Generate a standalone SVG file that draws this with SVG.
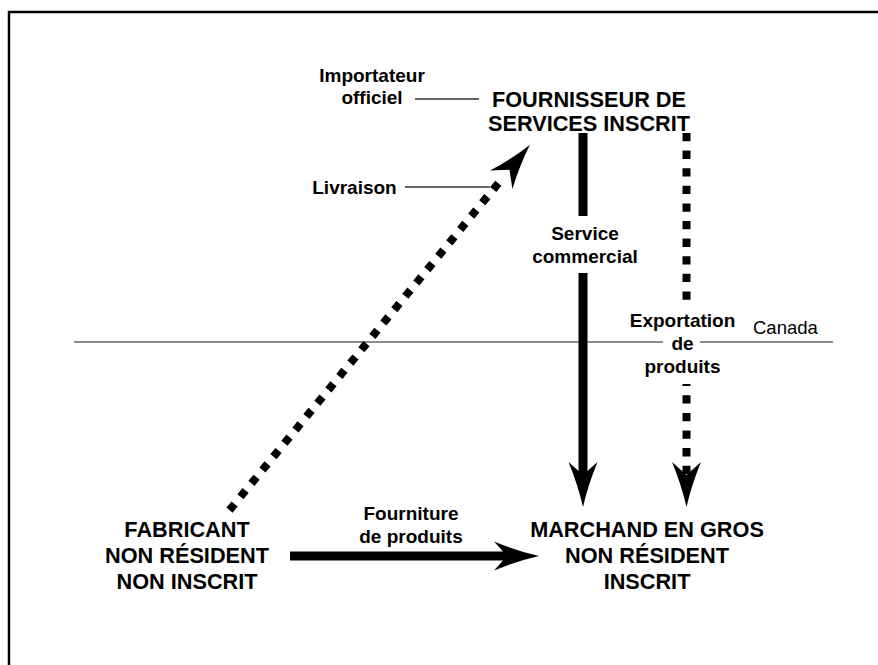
<svg xmlns="http://www.w3.org/2000/svg" xmlns:xlink="http://www.w3.org/1999/xlink" width="878" height="665" viewBox="0 0 878 665">
<style>
  .node { font-family: "Liberation Sans", Arial, sans-serif; font-weight: bold; font-size: 21.7px; fill: #000; text-anchor: middle; }
  .lbl { font-family: "Liberation Sans", Arial, sans-serif; font-weight: bold; font-size: 19px; fill: #000; text-anchor: middle; }
  .reg { font-family: "Liberation Sans", Arial, sans-serif; font-size: 18.5px; fill: #000; }
  .solid { stroke: #000; stroke-width: 9; fill: none; }
  .dash { stroke: #000; stroke-width: 8; fill: none; stroke-dasharray: 8.3 9.3; }
  .dot { stroke: #000; stroke-width: 8; fill: none; stroke-dasharray: 8 9.3; }
  .thin { stroke: #333; stroke-width: 1.4; fill: none; }
  .border { stroke: #666; stroke-width: 1.4; fill: none; }
</style>
<defs>
  <path id="ah" d="M0,0 Q-22,-5 -45,-14.5 L-32,0 L-45,14.5 Q-22,5 0,0 Z" fill="#000"/>
</defs>
<rect x="0" y="0" width="878" height="665" fill="#fff"/>
<path d="M9,668 V12 H881" stroke="#000" stroke-width="2.5" fill="none"/>

<g id="boundary">
  <line class="border" x1="74" y1="342" x2="663" y2="342"/>
  <line class="border" x1="700" y1="342" x2="833" y2="342"/>
  <text class="reg" x="753" y="334">Canada</text>
</g>

<g id="connectors">
  <!-- Livraison: dotted diagonal -->
  <line class="dot" x1="229.5" y1="510.1" x2="498.7" y2="182.8"/>
  <use xlink:href="#ah" href="#ah" transform="translate(529.8,145) rotate(-50.56)"/>
  <!-- Service commercial -->
  <line class="solid" x1="583" y1="133" x2="583" y2="216"/>
  <line class="solid" x1="583" y1="273" x2="583" y2="482"/>
  <use xlink:href="#ah" href="#ah" transform="translate(583,507) rotate(90)"/>
  <!-- Exportation de produits -->
  <line class="dash" x1="686.5" y1="133" x2="686.5" y2="300"/>
  <line class="dash" x1="686.5" y1="384" x2="686.5" y2="476" stroke-dashoffset="6.3"/>
  <use xlink:href="#ah" href="#ah" transform="translate(686.5,507) rotate(90)"/>
  <!-- Fourniture de produits -->
  <line class="solid" x1="290" y1="556" x2="514" y2="556" stroke-width="10"/>
  <use xlink:href="#ah" href="#ah" transform="translate(539,556)"/>
  <!-- callout leaders -->
  <line class="thin" x1="415" y1="99" x2="479" y2="99"/>
  <line class="thin" x1="405" y1="187" x2="490" y2="187"/>
</g>

<g id="node-fournisseur">
  <text class="node" x="589" y="107">FOURNISSEUR DE</text>
  <text class="node" x="589" y="131">SERVICES INSCRIT</text>
</g>
<g id="node-fabricant">
  <text class="node" x="187" y="537">FABRICANT</text>
  <text class="node" x="187" y="563">NON RÉSIDENT</text>
  <text class="node" x="187" y="589">NON INSCRIT</text>
</g>
<g id="node-marchand">
  <text class="node" x="647" y="537">MARCHAND EN GROS</text>
  <text class="node" x="647" y="563">NON RÉSIDENT</text>
  <text class="node" x="647" y="589">INSCRIT</text>
</g>

<g id="labels">
  <g id="label-importateur">
    <text class="lbl" x="372" y="82">Importateur</text>
    <text class="lbl" x="372" y="104">officiel</text>
  </g>
  <g id="label-livraison">
    <text class="lbl" x="354.5" y="194">Livraison</text>
  </g>
  <g id="label-service">
    <text class="lbl" x="585" y="240">Service</text>
    <text class="lbl" x="585" y="263">commercial</text>
  </g>
  <g id="label-exportation">
    <text class="lbl" x="682.5" y="327">Exportation</text>
    <text class="lbl" x="682.5" y="350">de</text>
    <text class="lbl" x="682.5" y="373">produits</text>
  </g>
  <g id="label-fourniture">
    <text class="lbl" x="411" y="520">Fourniture</text>
    <text class="lbl" x="411" y="543">de produits</text>
  </g>
</g>
</svg>
